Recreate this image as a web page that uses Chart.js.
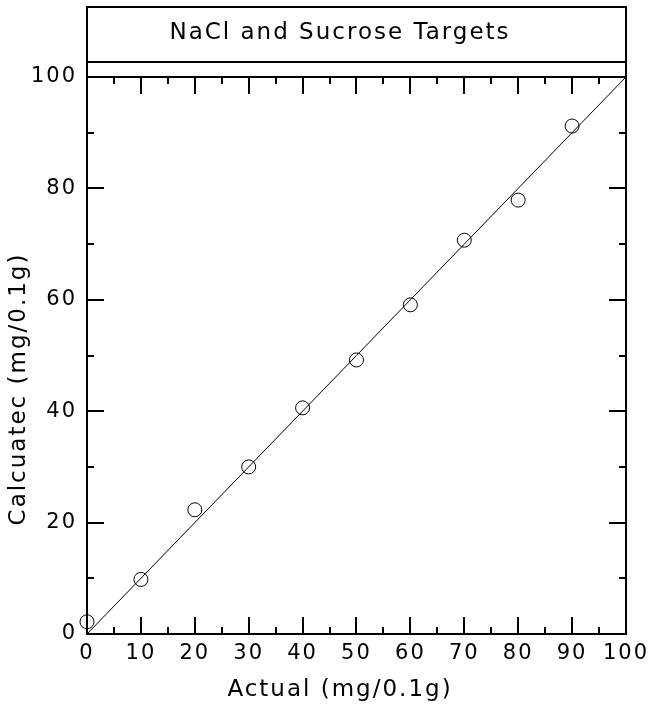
<!DOCTYPE html>
<html>
<head>
<meta charset="utf-8">
<script src="https://cdn.jsdelivr.net/npm/chart.js@4"></script>
<style>
html,body{margin:0;padding:0;background:#fff;}
#wrap{width:653px;height:707px;}
</style>
</head>
<body>
<div id="wrap"><canvas id="c" width="653" height="707"></canvas></div>
<script>
const chartTitle = "NaCl and Sucrose Targets";
const xTitle = "Actual (mg/0.1g)";
const yTitle = "Calcuatec (mg/0.1g)";
const actual = [0, 10, 20, 30, 40, 50, 60, 70, 80, 90];
const calculated = [2.2, 9.8, 22.3, 30.0, 40.6, 49.2, 59.1, 70.7, 77.9, 91.2];
const refLineX = [0, 100];
const refLineY = [0, 100];
const xTicks = [0, 10, 20, 30, 40, 50, 60, 70, 80, 90, 100];
const yTicks = [0, 20, 40, 60, 80, 100];

const FONT = "'DejaVu Sans', sans-serif";

const framePlugin = {
  id: 'frame',
  beforeDraw(chart) {
    chart.ctx.letterSpacing = '2px';
  },
  afterDraw(chart) {
    const ctx = chart.ctx;
    const xs = chart.scales.x, ys = chart.scales.y;
    const L = Math.round(xs.getPixelForValue(0)), R = Math.round(xs.getPixelForValue(100));
    const T = Math.round(ys.getPixelForValue(100)), B = Math.round(ys.getPixelForValue(0));
    ctx.save();
    ctx.strokeStyle = '#000';
    ctx.lineWidth = 2;
    ctx.beginPath();
    ctx.moveTo(L, 7); ctx.lineTo(L, B);
    ctx.moveTo(R, 7); ctx.lineTo(R, B);
    ctx.moveTo(L - 1, 7); ctx.lineTo(R + 1, 7);
    ctx.moveTo(L, 62); ctx.lineTo(R, 62);
    ctx.moveTo(L, T); ctx.lineTo(R, T);
    ctx.moveTo(L - 1, B); ctx.lineTo(R + 1, B);
    for (let v = 5; v < 100; v += 5) {
      const p = Math.round(xs.getPixelForValue(v));
      const len = (v % 10 === 0) ? 17 : 7;
      ctx.moveTo(p, B); ctx.lineTo(p, B - len);
      ctx.moveTo(p, T); ctx.lineTo(p, T + len);
    }
    for (let v = 10; v < 100; v += 10) {
      const p = Math.round(ys.getPixelForValue(v));
      const len = (v % 20 === 0) ? 17 : 7;
      ctx.moveTo(L, p); ctx.lineTo(L + len, p);
      ctx.moveTo(R, p); ctx.lineTo(R - len, p);
    }
    ctx.stroke();
    ctx.fillStyle = '#000';
    ctx.font = "23px " + FONT;
    ctx.letterSpacing = '2px';
    ctx.textAlign = 'center';
    ctx.textBaseline = 'middle';
    ctx.fillText(chartTitle, 340, 33);
    ctx.fillText(xTitle, 340, 690);
    ctx.translate(19, 389);
    ctx.rotate(-Math.PI / 2);
    ctx.fillText(yTitle, 0, 0);
    ctx.restore();
  }
};

new Chart(document.getElementById('c'), {
  type: 'scatter',
  data: {
    datasets: [
      {
        type: 'line',
        data: refLineX.map((x, i) => ({ x: x, y: refLineY[i] })),
        borderColor: '#000',
        borderWidth: 1,
        pointRadius: 0,
        fill: false,
        clip: false
      },
      {
        data: actual.map((x, i) => ({ x: x, y: calculated[i] })),
        pointStyle: 'circle',
        pointRadius: 7,
        borderColor: '#000',
        backgroundColor: 'rgba(0,0,0,0)',
        borderWidth: 1,
        clip: false
      }
    ]
  },
  options: {
    responsive: false,
    animation: false,
    layout: { padding: { top: 77, right: 27, left: 0, bottom: 0 } },
    plugins: { legend: { display: false }, tooltip: { enabled: false }, title: { display: false } },
    scales: {
      x: {
        type: 'linear', min: 0, max: 100,
        afterFit(s) { s.height = 73; },
        afterBuildTicks(s) { s.ticks = xTicks.map(v => ({ value: v })); },
        grid: { display: false, drawTicks: false },
        border: { display: false },
        ticks: { color: '#000', font: { family: FONT, size: 21 }, padding: 7, maxRotation: 0, autoSkip: false }
      },
      y: {
        type: 'linear', min: 0, max: 100,
        afterFit(s) { s.width = 87; },
        afterBuildTicks(s) { s.ticks = yTicks.map(v => ({ value: v })); },
        grid: { display: false, drawTicks: false },
        border: { display: false },
        ticks: { color: '#000', font: { family: FONT, size: 21 }, padding: 10 }
      }
    }
  },
  plugins: [framePlugin]
});
</script>
</body>
</html>
